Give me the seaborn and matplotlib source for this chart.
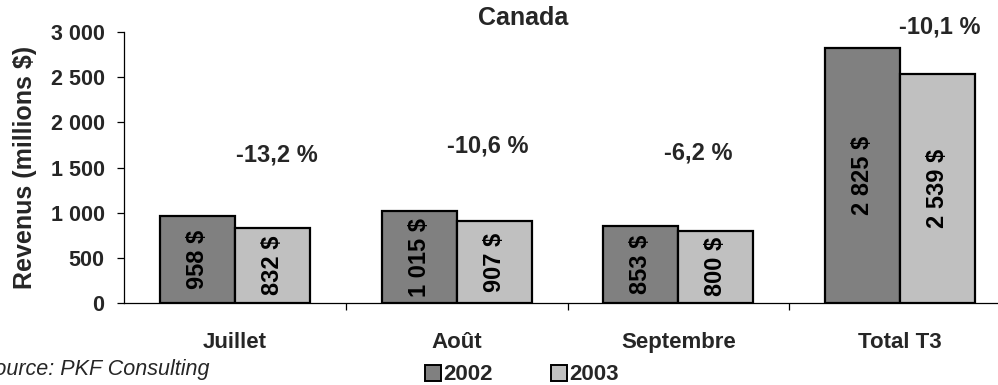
import matplotlib
matplotlib.use("Agg")
import matplotlib.pyplot as plt
from matplotlib.patches import Patch
from matplotlib.ticker import FuncFormatter, FixedLocator
import seaborn as sns
import pandas as pd

# Revenus trimestriels (millions $)
mois = ["Juillet", "Août", "Septembre", "Total T3"]
annees = ["2002", "2003"]
rev_2002 = [958, 1015, 853, 2825]
rev_2003 = [832, 907, 800, 2539]
variation = ["-13,2 %", "-10,6 %", "-6,2 %", "-10,1 %"]
couleurs = ["#808080", "#C0C0C0"]

df = pd.DataFrame({
    "mois": mois * 2,
    "annee": [annees[0]] * len(mois) + [annees[1]] * len(mois),
    "revenu": rev_2002 + rev_2003,
})

sns.set_style("white")
plt.rcParams["font.family"] = ["Liberation Sans", "DejaVu Sans"]
plt.rcParams["font.weight"] = "bold"

fig = plt.figure(figsize=(9.98, 3.85), dpi=100)
W, H = 998, 385
ax = fig.add_axes([124 / W, 1 - 303 / H, (1011 - 124) / W, (303 - 32) / H])

sns.barplot(data=df, x="mois", y="revenu", hue="annee", order=mois,
            hue_order=annees, palette=couleurs, width=0.677,
            edgecolor="black", linewidth=1.6, saturation=1, ax=ax,
            legend=False)

ax.set_xlim(-0.5, len(mois) - 0.5)
ax.set_ylim(0, 3000)
ax.yaxis.set_major_locator(FixedLocator(range(0, 3001, 500)))
ax.yaxis.set_major_formatter(FuncFormatter(lambda v, p: f"{int(v):,}".replace(",", " ")))

for s in ["top", "right"]:
    ax.spines[s].set_visible(False)
for s in ["left", "bottom"]:
    ax.spines[s].set_color("black")
    ax.spines[s].set_linewidth(0.9)

ax.tick_params(axis="y", which="major", direction="out", length=5, width=0.9,
               color="black", labelsize=15.5, pad=9, left=True)
ax.tick_params(axis="x", which="major", length=0, labelsize=16, pad=21)
ax.set_xticks(range(len(mois)))
ax.set_xticklabels(mois, fontweight="bold")
for lab in ax.get_yticklabels():
    lab.set_fontweight("bold")
ax.set_xticks([i + 0.5 for i in range(len(mois) - 1)], minor=True)
ax.tick_params(axis="x", which="minor", direction="out", length=5, width=0.9,
               color="black", bottom=True)

ax.set_xlabel("")
ax.set_ylabel("Revenus (millions $)", fontsize=18, fontweight="bold", labelpad=10)

# Valeurs dans les barres
for cont, vals in zip(ax.containers, [rev_2002, rev_2003]):
    ax.bar_label(cont, labels=[f"{v:,} $".replace(",", " ") for v in vals],
                 label_type="center", rotation=90, fontsize=17,
                 fontweight="heavy", color="black")

# Variation 2003 / 2002
var_pos = [(0.19, 1640), (1.14, 1740), (2.09, 1660), (3.18, 3055)]
for txt, (x, y) in zip(variation, var_pos):
    ax.text(x, y, txt, ha="center", va="center", fontsize=17,
            fontweight="heavy", clip_on=False)

# Titre
fig.text(523 / W, 1 - 18 / H, "Canada", ha="center", va="center",
         fontsize=18, fontweight="bold")

# Légende
handles = [Patch(facecolor=c, edgecolor="black", linewidth=1.4) for c in couleurs]
fig.legend(handles, annees, loc="center", bbox_to_anchor=(522 / W, 1 - 375 / H),
           ncol=2, frameon=False, handlelength=0.72, handleheight=0.72,
           handletextpad=0.1, columnspacing=2.6,
           prop={"size": 16, "weight": "bold"})

# Source
fig.text(209 / W, 1 - 370 / H, "Source: PKF Consulting", ha="right",
         va="center", fontsize=15.5, fontstyle="italic", fontweight="normal")

fig.savefig("out.png", dpi=100)
